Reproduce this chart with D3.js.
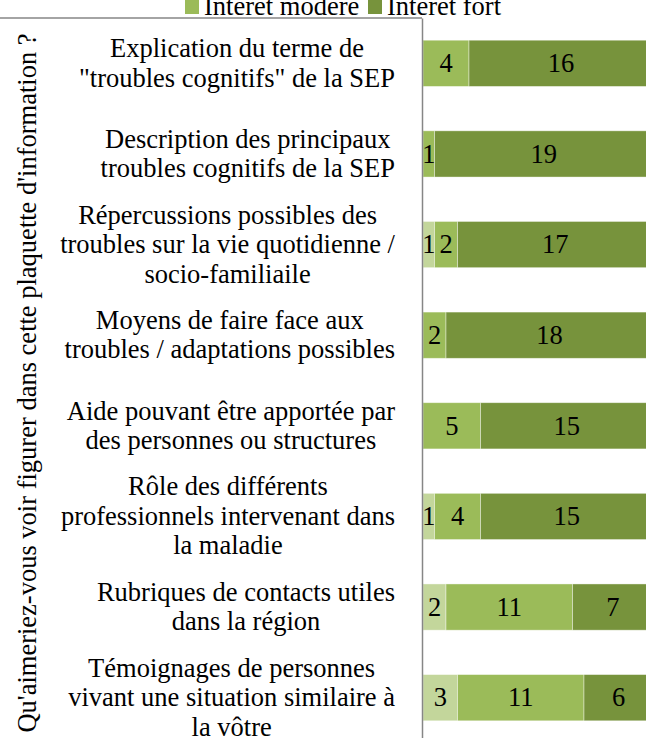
<!DOCTYPE html>
<html>
<head>
<meta charset="utf-8">
<script src="https://cdn.jsdelivr.net/npm/d3@7"></script>
<style>
  html, body { margin: 0; padding: 0; background: #fff; overflow: hidden; }
  svg { display: block; font-family: "Liberation Serif", "Times New Roman", serif; }
</style>
</head>
<body>
<svg id="chart" width="646" height="738"></svg>
<script>
// Survey answers: interest in each topic for an information leaflet
const categories = [
  ["Explication du terme de", "\"troubles cognitifs\" de la SEP"],
  ["Description des principaux", "troubles cognitifs de la SEP"],
  ["Répercussions possibles des", "troubles sur la vie quotidienne /", "socio-familiaile"],
  ["Moyens de faire face aux", "troubles / adaptations possibles"],
  ["Aide pouvant être apportée par", "des personnes ou structures"],
  ["Rôle des différents", "professionnels intervenant dans", "la maladie"],
  ["Rubriques de contacts utiles", "dans la région"],
  ["Témoignages de personnes", "vivant une situation similaire à", "la vôtre"]
];
const seriesNames = ["Intérêt faible", "Intérêt modéré", "Intérêt fort"];
const faible = [0, 0, 1, 0, 0, 1, 2, 3];
const modere = [4, 1, 2, 2, 5, 4, 11, 11];
const fort   = [16, 19, 17, 18, 15, 15, 7, 6];
const legendNames = ["Intérêt modéré", "Intérêt fort"];
const axisTitle = "Qu'aimeriez-vous voir figurer dans cette plaquette d'information ?";

const colors = ["#c3d69b", "#9bbb59", "#77933c"];
const fontSize = 26.5;

const svg = d3.select("#chart");
const keys = categories.map((c, i) => "c" + i);
const rows = keys.map((k, i) => ({ key: k, v0: faible[i], v1: modere[i], v2: fort[i] }));

const x = d3.scaleLinear().domain([0, 20]).range([423, 653]);
const y = d3.scaleBand().domain(keys).range([18, 743]).paddingInner(0.49).paddingOuter(0.245);

const stack = d3.stack().keys(["v0", "v1", "v2"]);
const layers = stack(rows);

// Stacked bars
const layerG = svg.append("g").selectAll("g").data(layers).join("g")
  .attr("fill", (d, i) => colors[i]);

layerG.selectAll("rect").data(d => d.filter(s => s[1] - s[0] > 0)).join("rect")
  .attr("x", d => x(d[0]))
  .attr("y", d => y(d.data.key))
  .attr("width", d => x(d[1]) - x(d[0]))
  .attr("height", y.bandwidth())
  .attr("stroke", "#ffffff")
  .attr("stroke-opacity", 0.5)
  .attr("stroke-width", 0.8);

// Value labels inside the segments
layerG.selectAll("text").data(d => d.filter(s => s[1] - s[0] > 0)).join("text")
  .attr("x", d => (x(d[0]) + x(d[1])) / 2)
  .attr("y", d => y(d.data.key) + y.bandwidth() / 2)
  .attr("dy", "0.33em")
  .attr("text-anchor", "middle")
  .attr("font-size", fontSize)
  .attr("fill", "#000")
  .text(d => d[1] - d[0]);

// Frame: top rule and vertical category axis
svg.append("line")
  .attr("x1", 0).attr("x2", 422).attr("y1", 18).attr("y2", 18)
  .attr("stroke", "#868686").attr("stroke-width", 1.5);
const yAxis = d3.axisLeft(y).tickSize(0).tickFormat("");
const axisG = svg.append("g").attr("transform", "translate(422,0)").call(yAxis);
axisG.select(".domain").attr("stroke", "#868686").attr("stroke-width", 1.5);

// Category labels: lines centered within a block, blocks right-aligned
const labelRight = 395;
const lineH = 29.5;
const labelG = svg.append("g").attr("font-size", fontSize).attr("fill", "#000");
categories.forEach((lines, i) => {
  const cy = y(keys[i]) + y.bandwidth() / 2;
  const t = labelG.append("text").attr("text-anchor", "middle");
  const spans = lines.map((ln, j) => t.append("tspan")
    .attr("y", cy + (j - (lines.length - 1) / 2) * lineH)
    .attr("dy", "0.32em")
    .text(ln));
  const w = d3.max(spans, s => s.node().getComputedTextLength());
  spans.forEach(s => s.attr("x", labelRight - w / 2));
});

// Rotated axis title
svg.append("text")
  .attr("transform", "translate(36,383) rotate(-90)")
  .attr("text-anchor", "middle")
  .attr("font-size", fontSize)
  .attr("fill", "#000")
  .text(axisTitle);

// Legend
const legend = svg.append("g").attr("font-size", fontSize);
const legendX = [185, 368];
legendNames.forEach((name, i) => {
  const g = legend.append("g").attr("transform", `translate(${legendX[i]},0)`);
  g.append("rect").attr("x", 0).attr("y", -1).attr("width", 14).attr("height", 15)
    .attr("fill", colors[seriesNames.indexOf(name)]);
  g.append("text").attr("x", 19).attr("y", 15).attr("fill", "#000").text(name);
});
</script>
</body>
</html>
